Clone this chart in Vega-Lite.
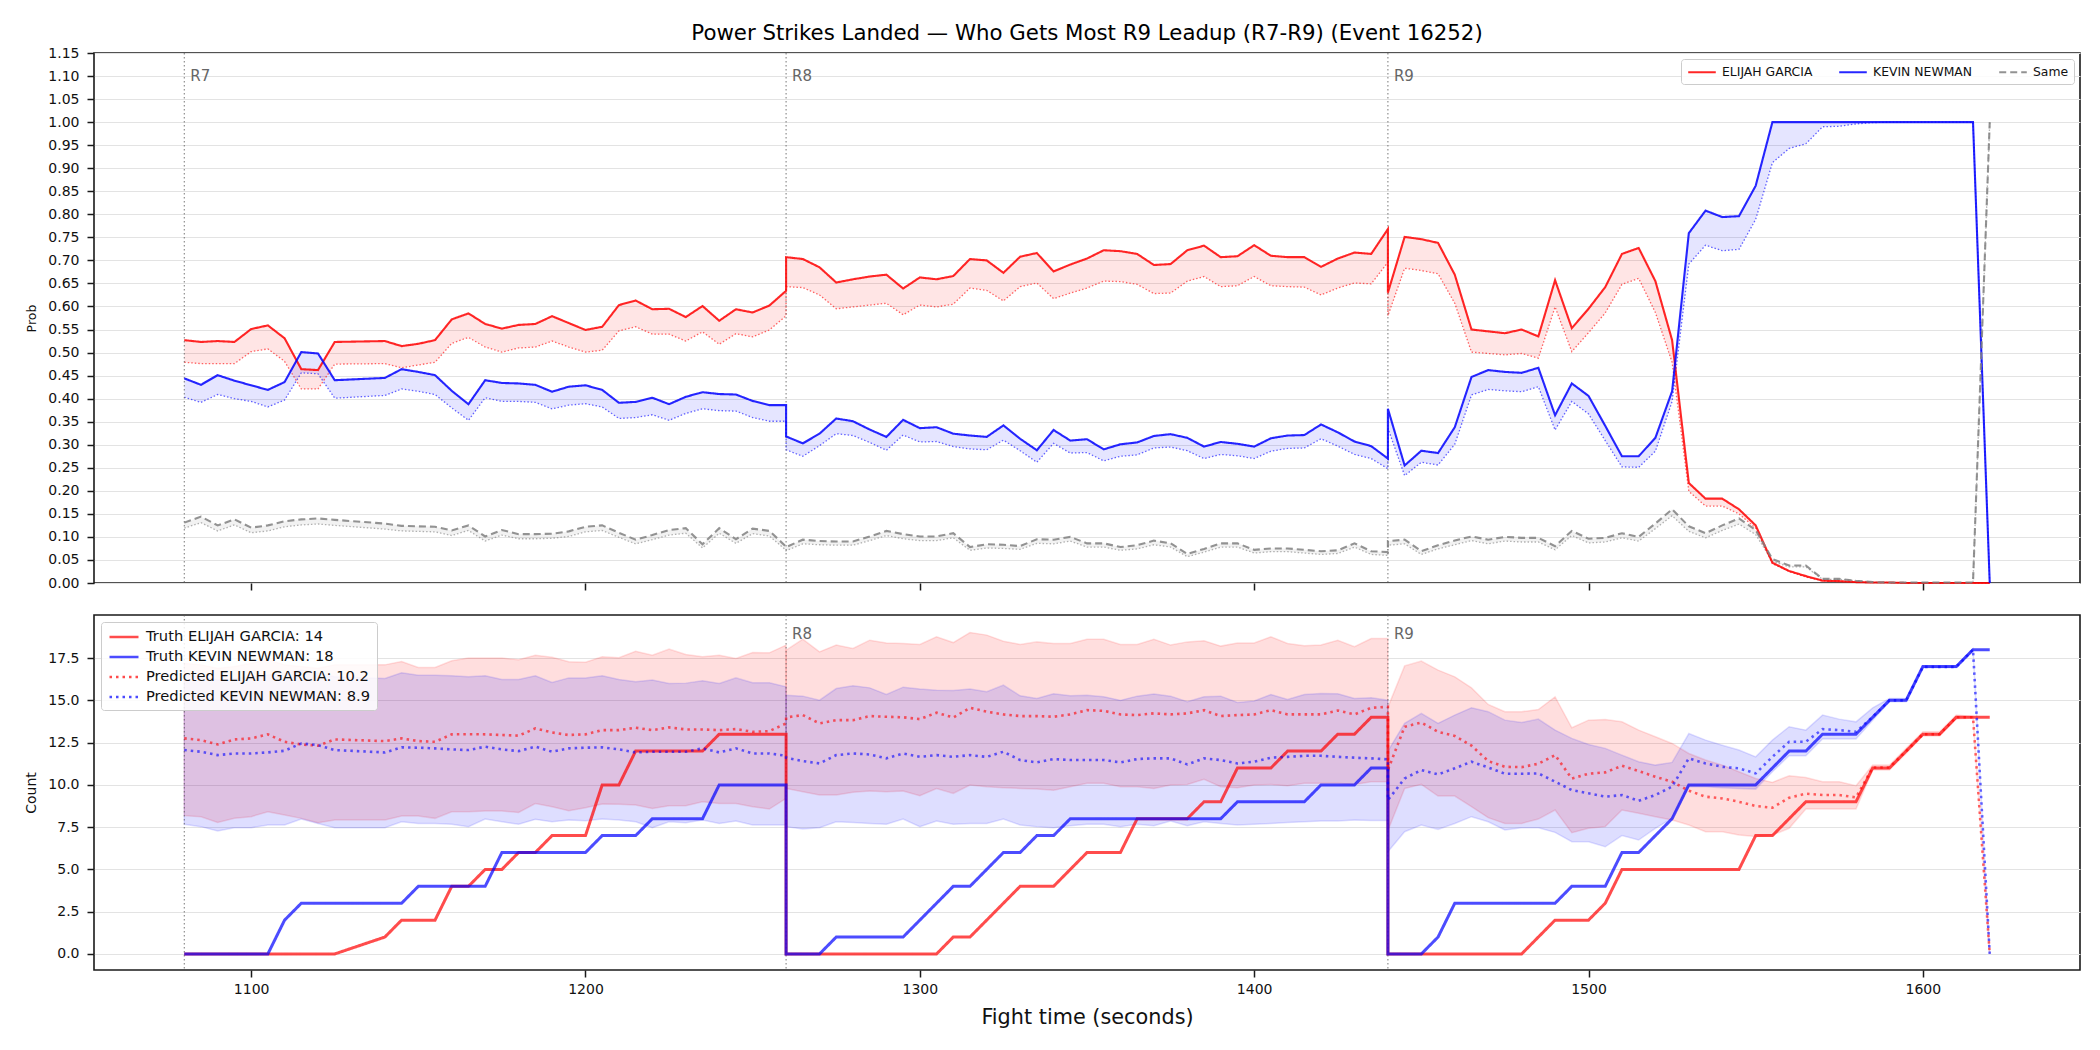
{
  "$schema": "https://vega.github.io/schema/vega-lite/v6.json",
  "background": "white",
  "padding": {"left": 24, "top": 21, "right": 16, "bottom": 8},
  "spacing": 21,
  "config": {
    "font": "DejaVu Sans",
    "view": {"stroke": "#1a1a1a", "strokeWidth": 1.6},
    "axis": {
      "domain": false,
      "tickColor": "#1a1a1a",
      "tickSize": 7,
      "tickWidth": 1.5,
      "labelFont": "DejaVu Sans",
      "labelFontSize": 14,
      "labelColor": "#111111",
      "labelPadding": 5,
      "titleFont": "DejaVu Sans",
      "titleFontWeight": "normal",
      "titleColor": "#111111",
      "gridColor": "#e3e3e3",
      "gridWidth": 1
    },
    "axisY": {"labelPadding": 8},
    "legend": {"labelFont": "DejaVu Sans", "labelColor": "#111111", "labelLimit": 0}
  },
  "datasets": {
    "rounds": [
      {"t": 1080, "label": "R7"},
      {"t": 1260, "label": "R8"},
      {"t": 1440, "label": "R9"}
    ],
    "fight": [
      {"r":"R7","i":0,"t":1080,"g":0.527,"gd":0.479,"k":0.444,"kd":0.403,"s":0.131,"sd":0.119,"gt":0,"kt":0,"gp":12.75,"kp":12.06,"glo":8.18,"ghi":17.2,"klo":7.67,"khi":16.5},
      {"r":"R7","i":1,"t":1085,"g":0.523,"gd":0.476,"k":0.430,"kd":0.392,"s":0.144,"sd":0.131,"gt":0,"kt":0,"gp":12.65,"kp":11.96,"glo":8.12,"ghi":17.1,"klo":7.53,"khi":16.4},
      {"r":"R7","i":2,"t":1090,"g":0.525,"gd":0.476,"k":0.451,"kd":0.409,"s":0.125,"sd":0.113,"gt":0,"kt":0,"gp":12.39,"kp":11.76,"glo":7.78,"ghi":16.9,"klo":7.27,"khi":16.2},
      {"r":"R7","i":3,"t":1095,"g":0.523,"gd":0.476,"k":0.439,"kd":0.400,"s":0.138,"sd":0.126,"gt":0,"kt":0,"gp":12.69,"kp":11.86,"glo":8.02,"ghi":17.0,"klo":7.47,"khi":16.3},
      {"r":"R7","i":4,"t":1100,"g":0.551,"gd":0.502,"k":0.429,"kd":0.394,"s":0.120,"sd":0.109,"gt":0,"kt":0,"gp":12.75,"kp":11.86,"glo":8.12,"ghi":17.2,"klo":7.47,"khi":16.4},
      {"r":"R7","i":5,"t":1105,"g":0.559,"gd":0.508,"k":0.419,"kd":0.382,"s":0.125,"sd":0.113,"gt":0,"kt":0,"gp":12.99,"kp":11.92,"glo":8.41,"ghi":17.4,"klo":7.63,"khi":16.5},
      {"r":"R7","i":6,"t":1110,"g":0.531,"gd":0.481,"k":0.436,"kd":0.397,"s":0.134,"sd":0.122,"gt":0,"kt":2,"gp":12.55,"kp":12.02,"glo":8.22,"ghi":17.1,"klo":7.63,"khi":16.6},
      {"r":"R7","i":7,"t":1115,"g":0.464,"gd":0.421,"k":0.501,"kd":0.456,"s":0.138,"sd":0.126,"gt":0,"kt":3,"gp":12.39,"kp":12.45,"glo":8.02,"ghi":17.0,"klo":7.98,"khi":16.8},
      {"r":"R7","i":8,"t":1120,"g":0.462,"gd":0.421,"k":0.498,"kd":0.454,"s":0.140,"sd":0.128,"gt":0,"kt":3,"gp":12.32,"kp":12.35,"glo":7.76,"ghi":16.9,"klo":7.72,"khi":16.6},
      {"r":"R7","i":9,"t":1125,"g":0.523,"gd":0.475,"k":0.440,"kd":0.401,"s":0.137,"sd":0.125,"gt":0,"kt":3,"gp":12.69,"kp":12.06,"glo":7.92,"ghi":17.1,"klo":7.47,"khi":16.4},
      {"r":"R7","i":10,"t":1140,"g":0.525,"gd":0.476,"k":0.445,"kd":0.407,"s":0.129,"sd":0.117,"gt":1,"kt":3,"gp":12.59,"kp":11.92,"glo":7.92,"ghi":17.1,"klo":7.47,"khi":16.3},
      {"r":"R7","i":11,"t":1145,"g":0.514,"gd":0.467,"k":0.464,"kd":0.421,"s":0.124,"sd":0.113,"gt":2,"kt":3,"gp":12.75,"kp":12.22,"glo":8.16,"ghi":17.3,"klo":7.82,"khi":16.63},
      {"r":"R7","i":12,"t":1150,"g":0.519,"gd":0.473,"k":0.458,"kd":0.416,"s":0.123,"sd":0.112,"gt":2,"kt":4,"gp":12.59,"kp":12.2,"glo":8.16,"ghi":16.95,"klo":7.72,"khi":16.49},
      {"r":"R7","i":13,"t":1155,"g":0.527,"gd":0.479,"k":0.451,"kd":0.409,"s":0.122,"sd":0.111,"gt":2,"kt":4,"gp":12.55,"kp":12.16,"glo":8.02,"ghi":16.95,"klo":7.72,"khi":16.49},
      {"r":"R7","i":14,"t":1160,"g":0.572,"gd":0.520,"k":0.417,"kd":0.380,"s":0.114,"sd":0.103,"gt":4,"kt":4,"gp":12.99,"kp":12.1,"glo":8.41,"ghi":17.34,"klo":7.67,"khi":16.45},
      {"r":"R7","i":15,"t":1165,"g":0.585,"gd":0.533,"k":0.388,"kd":0.353,"s":0.125,"sd":0.114,"gt":4,"kt":4,"gp":13.0,"kp":12.06,"glo":8.41,"ghi":17.5,"klo":7.53,"khi":16.39},
      {"r":"R7","i":16,"t":1170,"g":0.562,"gd":0.512,"k":0.440,"kd":0.402,"s":0.101,"sd":0.091,"gt":5,"kt":4,"gp":12.99,"kp":12.26,"glo":8.45,"ghi":17.5,"klo":7.98,"khi":16.45},
      {"r":"R7","i":17,"t":1175,"g":0.552,"gd":0.501,"k":0.434,"kd":0.394,"s":0.115,"sd":0.104,"gt":5,"kt":6,"gp":12.95,"kp":12.1,"glo":8.45,"ghi":17.5,"klo":7.82,"khi":16.24},
      {"r":"R7","i":18,"t":1180,"g":0.560,"gd":0.510,"k":0.433,"kd":0.394,"s":0.106,"sd":0.096,"gt":6,"kt":6,"gp":12.91,"kp":12.0,"glo":8.37,"ghi":17.4,"klo":7.67,"khi":16.24},
      {"r":"R7","i":19,"t":1185,"g":0.562,"gd":0.512,"k":0.430,"kd":0.392,"s":0.106,"sd":0.096,"gt":6,"kt":6,"gp":13.34,"kp":12.26,"glo":8.9,"ghi":17.67,"klo":7.96,"khi":16.45},
      {"r":"R7","i":20,"t":1190,"g":0.579,"gd":0.525,"k":0.415,"kd":0.378,"s":0.107,"sd":0.097,"gt":7,"kt":6,"gp":13.1,"kp":11.96,"glo":8.71,"ghi":17.55,"klo":7.82,"khi":16.06},
      {"r":"R7","i":21,"t":1195,"g":0.564,"gd":0.512,"k":0.426,"kd":0.386,"s":0.112,"sd":0.101,"gt":7,"kt":6,"gp":12.95,"kp":12.16,"glo":8.47,"ghi":17.28,"klo":7.92,"khi":16.33},
      {"r":"R7","i":22,"t":1200,"g":0.549,"gd":0.501,"k":0.429,"kd":0.389,"s":0.122,"sd":0.111,"gt":7,"kt":6,"gp":12.99,"kp":12.2,"glo":8.65,"ghi":17.26,"klo":7.88,"khi":16.33},
      {"r":"R7","i":23,"t":1205,"g":0.556,"gd":0.505,"k":0.419,"kd":0.382,"s":0.125,"sd":0.114,"gt":10,"kt":7,"gp":13.24,"kp":12.22,"glo":8.87,"ghi":17.58,"klo":7.98,"khi":16.45},
      {"r":"R7","i":24,"t":1210,"g":0.603,"gd":0.547,"k":0.391,"kd":0.357,"s":0.109,"sd":0.099,"gt":10,"kt":7,"gp":13.24,"kp":12.1,"glo":8.85,"ghi":17.52,"klo":7.92,"khi":16.24},
      {"r":"R7","i":25,"t":1215,"g":0.613,"gd":0.556,"k":0.393,"kd":0.359,"s":0.094,"sd":0.085,"gt":12,"kt":7,"gp":13.38,"kp":11.92,"glo":8.81,"ghi":17.9,"klo":7.82,"khi":16.1},
      {"r":"R7","i":26,"t":1220,"g":0.594,"gd":0.540,"k":0.402,"kd":0.365,"s":0.104,"sd":0.094,"gt":12,"kt":8,"gp":13.24,"kp":11.96,"glo":8.61,"ghi":17.67,"klo":7.47,"khi":16.2},
      {"r":"R7","i":27,"t":1225,"g":0.595,"gd":0.540,"k":0.388,"kd":0.353,"s":0.115,"sd":0.104,"gt":12,"kt":8,"gp":13.4,"kp":11.96,"glo":8.77,"ghi":18.03,"klo":7.82,"khi":16.0},
      {"r":"R7","i":28,"t":1230,"g":0.577,"gd":0.525,"k":0.404,"kd":0.368,"s":0.119,"sd":0.108,"gt":12,"kt":8,"gp":13.28,"kp":11.96,"glo":8.77,"ghi":17.71,"klo":7.76,"khi":16.02},
      {"r":"R7","i":29,"t":1235,"g":0.601,"gd":0.545,"k":0.414,"kd":0.378,"s":0.084,"sd":0.076,"gt":12,"kt":8,"gp":13.28,"kp":12.16,"glo":9.0,"ghi":17.58,"klo":7.92,"khi":16.16},
      {"r":"R7","i":30,"t":1240,"g":0.569,"gd":0.518,"k":0.410,"kd":0.374,"s":0.119,"sd":0.108,"gt":13,"kt":10,"gp":13.24,"kp":11.92,"glo":8.9,"ghi":17.67,"klo":7.72,"khi":16.0},
      {"r":"R7","i":31,"t":1245,"g":0.594,"gd":0.541,"k":0.409,"kd":0.373,"s":0.095,"sd":0.086,"gt":13,"kt":10,"gp":13.3,"kp":12.16,"glo":8.9,"ghi":17.48,"klo":7.86,"khi":16.33},
      {"r":"R7","i":32,"t":1250,"g":0.587,"gd":0.534,"k":0.395,"kd":0.359,"s":0.118,"sd":0.107,"gt":13,"kt":10,"gp":13.14,"kp":11.86,"glo":8.71,"ghi":17.83,"klo":7.63,"khi":16.04},
      {"r":"R7","i":33,"t":1255,"g":0.602,"gd":0.549,"k":0.386,"kd":0.351,"s":0.113,"sd":0.102,"gt":13,"kt":10,"gp":13.18,"kp":11.86,"glo":8.57,"ghi":17.81,"klo":7.63,"khi":16.04},
      {"r":"R7","i":34,"t":1260,"g":0.634,"gd":0.580,"k":0.386,"kd":0.351,"s":0.079,"sd":0.071,"gt":13,"kt":10,"gp":13.64,"kp":11.72,"glo":9.2,"ghi":18.27,"klo":7.63,"khi":15.8},
      {"r":"R8","i":35,"t":1260,"g":0.707,"gd":0.643,"k":0.318,"kd":0.289,"s":0.078,"sd":0.070,"gt":0,"kt":0,"gp":13.99,"kp":11.61,"glo":9.79,"ghi":17.97,"klo":7.53,"khi":15.31},
      {"r":"R8","i":36,"t":1265,"g":0.703,"gd":0.641,"k":0.303,"kd":0.275,"s":0.094,"sd":0.085,"gt":0,"kt":0,"gp":14.13,"kp":11.41,"glo":9.6,"ghi":18.62,"klo":7.39,"khi":15.25},
      {"r":"R8","i":37,"t":1270,"g":0.685,"gd":0.625,"k":0.324,"kd":0.298,"s":0.091,"sd":0.083,"gt":0,"kt":0,"gp":13.64,"kp":11.27,"glo":9.4,"ghi":17.87,"klo":7.47,"khi":15.01},
      {"r":"R8","i":38,"t":1275,"g":0.652,"gd":0.595,"k":0.357,"kd":0.324,"s":0.090,"sd":0.082,"gt":0,"kt":1,"gp":13.83,"kp":11.76,"glo":9.4,"ghi":18.27,"klo":7.82,"khi":15.7},
      {"r":"R8","i":39,"t":1280,"g":0.659,"gd":0.599,"k":0.351,"kd":0.320,"s":0.090,"sd":0.082,"gt":0,"kt":1,"gp":13.83,"kp":11.86,"glo":9.56,"ghi":18.07,"klo":7.78,"khi":15.86},
      {"r":"R8","i":40,"t":1285,"g":0.665,"gd":0.603,"k":0.333,"kd":0.305,"s":0.101,"sd":0.092,"gt":0,"kt":1,"gp":14.07,"kp":11.8,"glo":9.64,"ghi":18.56,"klo":7.72,"khi":15.74},
      {"r":"R8","i":41,"t":1290,"g":0.669,"gd":0.607,"k":0.317,"kd":0.288,"s":0.113,"sd":0.103,"gt":0,"kt":1,"gp":14.03,"kp":11.57,"glo":9.6,"ghi":18.4,"klo":7.67,"khi":15.35},
      {"r":"R8","i":42,"t":1295,"g":0.639,"gd":0.582,"k":0.354,"kd":0.321,"s":0.106,"sd":0.096,"gt":0,"kt":1,"gp":14.0,"kp":11.86,"glo":9.64,"ghi":18.36,"klo":7.98,"khi":15.78},
      {"r":"R8","i":43,"t":1300,"g":0.663,"gd":0.603,"k":0.336,"kd":0.306,"s":0.101,"sd":0.092,"gt":0,"kt":2,"gp":13.89,"kp":11.66,"glo":9.36,"ghi":18.31,"klo":7.53,"khi":15.67},
      {"r":"R8","i":44,"t":1305,"g":0.659,"gd":0.599,"k":0.338,"kd":0.307,"s":0.101,"sd":0.092,"gt":0,"kt":3,"gp":14.27,"kp":11.76,"glo":9.79,"ghi":18.76,"klo":7.86,"khi":15.6},
      {"r":"R8","i":45,"t":1310,"g":0.666,"gd":0.605,"k":0.324,"kd":0.296,"s":0.108,"sd":0.098,"gt":1,"kt":4,"gp":13.99,"kp":11.66,"glo":9.5,"ghi":18.42,"klo":7.67,"khi":15.59},
      {"r":"R8","i":46,"t":1315,"g":0.703,"gd":0.640,"k":0.320,"kd":0.291,"s":0.078,"sd":0.071,"gt":1,"kt":4,"gp":14.56,"kp":11.76,"glo":9.99,"ghi":19.01,"klo":7.72,"khi":15.67},
      {"r":"R8","i":47,"t":1320,"g":0.700,"gd":0.635,"k":0.317,"kd":0.289,"s":0.084,"sd":0.076,"gt":2,"kt":5,"gp":14.33,"kp":11.66,"glo":9.89,"ghi":18.86,"klo":7.72,"khi":15.51},
      {"r":"R8","i":48,"t":1325,"g":0.673,"gd":0.612,"k":0.342,"kd":0.310,"s":0.083,"sd":0.075,"gt":3,"kt":6,"gp":14.17,"kp":11.96,"glo":9.83,"ghi":18.5,"klo":7.98,"khi":15.9},
      {"r":"R8","i":49,"t":1330,"g":0.708,"gd":0.643,"k":0.313,"kd":0.287,"s":0.080,"sd":0.073,"gt":4,"kt":6,"gp":14.07,"kp":11.47,"glo":9.79,"ghi":18.31,"klo":7.63,"khi":15.27},
      {"r":"R8","i":50,"t":1335,"g":0.716,"gd":0.651,"k":0.288,"kd":0.262,"s":0.095,"sd":0.086,"gt":4,"kt":7,"gp":14.07,"kp":11.33,"glo":9.75,"ghi":18.46,"klo":7.53,"khi":15.11},
      {"r":"R8","i":51,"t":1340,"g":0.676,"gd":0.617,"k":0.332,"kd":0.303,"s":0.094,"sd":0.085,"gt":4,"kt":7,"gp":14.03,"kp":11.53,"glo":9.69,"ghi":18.36,"klo":7.47,"khi":15.39},
      {"r":"R8","i":52,"t":1345,"g":0.691,"gd":0.629,"k":0.309,"kd":0.282,"s":0.100,"sd":0.091,"gt":5,"kt":8,"gp":14.17,"kp":11.47,"glo":9.89,"ghi":18.36,"klo":7.59,"khi":15.27},
      {"r":"R8","i":53,"t":1350,"g":0.704,"gd":0.640,"k":0.312,"kd":0.283,"s":0.086,"sd":0.078,"gt":6,"kt":8,"gp":14.42,"kp":11.47,"glo":10.09,"ghi":18.62,"klo":7.67,"khi":15.31},
      {"r":"R8","i":54,"t":1355,"g":0.722,"gd":0.655,"k":0.290,"kd":0.265,"s":0.086,"sd":0.078,"gt":6,"kt":8,"gp":14.38,"kp":11.47,"glo":10.09,"ghi":18.62,"klo":7.67,"khi":15.21},
      {"r":"R8","i":55,"t":1360,"g":0.720,"gd":0.654,"k":0.301,"kd":0.275,"s":0.078,"sd":0.071,"gt":6,"kt":8,"gp":14.17,"kp":11.33,"glo":9.89,"ghi":18.31,"klo":7.53,"khi":15.0},
      {"r":"R8","i":56,"t":1365,"g":0.714,"gd":0.648,"k":0.305,"kd":0.278,"s":0.082,"sd":0.074,"gt":8,"kt":8,"gp":14.13,"kp":11.53,"glo":9.89,"ghi":18.31,"klo":7.67,"khi":15.25},
      {"r":"R8","i":57,"t":1370,"g":0.690,"gd":0.628,"k":0.319,"kd":0.293,"s":0.092,"sd":0.083,"gt":8,"kt":8,"gp":14.23,"kp":11.57,"glo":9.79,"ghi":18.62,"klo":7.59,"khi":15.37},
      {"r":"R8","i":58,"t":1375,"g":0.692,"gd":0.629,"k":0.323,"kd":0.295,"s":0.086,"sd":0.078,"gt":8,"kt":8,"gp":14.17,"kp":11.57,"glo":9.99,"ghi":18.27,"klo":7.86,"khi":15.25},
      {"r":"R8","i":59,"t":1380,"g":0.722,"gd":0.655,"k":0.315,"kd":0.287,"s":0.063,"sd":0.057,"gt":8,"kt":8,"gp":14.23,"kp":11.21,"glo":10.03,"ghi":18.46,"klo":7.59,"khi":14.92},
      {"r":"R8","i":60,"t":1385,"g":0.732,"gd":0.665,"k":0.296,"kd":0.270,"s":0.074,"sd":0.067,"gt":9,"kt":8,"gp":14.42,"kp":11.57,"glo":10.33,"ghi":18.52,"klo":7.82,"khi":15.21},
      {"r":"R8","i":61,"t":1390,"g":0.707,"gd":0.643,"k":0.306,"kd":0.279,"s":0.086,"sd":0.078,"gt":9,"kt":8,"gp":14.07,"kp":11.47,"glo":9.89,"ghi":18.21,"klo":7.72,"khi":15.25},
      {"r":"R8","i":62,"t":1395,"g":0.709,"gd":0.645,"k":0.302,"kd":0.276,"s":0.086,"sd":0.078,"gt":11,"kt":9,"gp":14.13,"kp":11.27,"glo":9.83,"ghi":18.4,"klo":7.63,"khi":14.88},
      {"r":"R8","i":63,"t":1400,"g":0.733,"gd":0.665,"k":0.296,"kd":0.270,"s":0.072,"sd":0.065,"gt":11,"kt":9,"gp":14.17,"kp":11.37,"glo":9.99,"ghi":18.4,"klo":7.67,"khi":14.96},
      {"r":"R8","i":64,"t":1405,"g":0.710,"gd":0.645,"k":0.314,"kd":0.286,"s":0.075,"sd":0.068,"gt":11,"kt":9,"gp":14.42,"kp":11.61,"glo":10.03,"ghi":18.76,"klo":7.72,"khi":15.35},
      {"r":"R8","i":65,"t":1410,"g":0.707,"gd":0.643,"k":0.320,"kd":0.292,"s":0.075,"sd":0.068,"gt":12,"kt":9,"gp":14.17,"kp":11.66,"glo":9.95,"ghi":18.36,"klo":7.78,"khi":15.05},
      {"r":"R8","i":66,"t":1415,"g":0.707,"gd":0.642,"k":0.321,"kd":0.293,"s":0.072,"sd":0.065,"gt":12,"kt":9,"gp":14.17,"kp":11.72,"glo":10.09,"ghi":18.23,"klo":7.82,"khi":15.35},
      {"r":"R8","i":67,"t":1420,"g":0.686,"gd":0.625,"k":0.344,"kd":0.313,"s":0.069,"sd":0.062,"gt":12,"kt":10,"gp":14.17,"kp":11.72,"glo":10.09,"ghi":18.27,"klo":7.86,"khi":15.41},
      {"r":"R8","i":68,"t":1425,"g":0.704,"gd":0.640,"k":0.327,"kd":0.297,"s":0.071,"sd":0.064,"gt":13,"kt":10,"gp":14.4,"kp":11.66,"glo":10.09,"ghi":18.56,"klo":7.86,"khi":15.39},
      {"r":"R8","i":69,"t":1430,"g":0.717,"gd":0.651,"k":0.307,"kd":0.279,"s":0.086,"sd":0.078,"gt":13,"kt":10,"gp":14.17,"kp":11.61,"glo":10.03,"ghi":18.17,"klo":7.92,"khi":15.11},
      {"r":"R8","i":70,"t":1435,"g":0.714,"gd":0.649,"k":0.297,"kd":0.270,"s":0.069,"sd":0.062,"gt":14,"kt":11,"gp":14.56,"kp":11.57,"glo":10.19,"ghi":18.66,"klo":7.9,"khi":15.15},
      {"r":"R8","i":71,"t":1440,"g":0.768,"gd":0.696,"k":0.270,"kd":0.248,"s":0.067,"sd":0.060,"gt":14,"kt":11,"gp":14.62,"kp":11.51,"glo":10.19,"ghi":18.66,"klo":7.9,"khi":15.01},
      {"r":"R9","i":72,"t":1440,"g":0.630,"gd":0.580,"k":0.378,"kd":0.336,"s":0.091,"sd":0.082,"gt":0,"kt":0,"gp":10.88,"kp":9.1,"glo":7.3,"ghi":14.6,"klo":6.05,"khi":12.0},
      {"r":"R9","i":73,"t":1445,"g":0.751,"gd":0.683,"k":0.255,"kd":0.233,"s":0.094,"sd":0.085,"gt":0,"kt":0,"gp":13.44,"kp":10.38,"glo":9.79,"ghi":17.04,"klo":7.23,"khi":13.64},
      {"r":"R9","i":74,"t":1450,"g":0.746,"gd":0.678,"k":0.287,"kd":0.262,"s":0.069,"sd":0.062,"gt":0,"kt":0,"gp":13.69,"kp":10.88,"glo":10.03,"ghi":17.32,"klo":7.63,"khi":14.23},
      {"r":"R9","i":75,"t":1455,"g":0.738,"gd":0.671,"k":0.282,"kd":0.256,"s":0.082,"sd":0.074,"gt":0,"kt":1,"gp":13.14,"kp":10.62,"glo":9.34,"ghi":16.79,"klo":7.37,"khi":13.64},
      {"r":"R9","i":76,"t":1460,"g":0.669,"gd":0.607,"k":0.338,"kd":0.301,"s":0.092,"sd":0.083,"gt":0,"kt":3,"gp":12.9,"kp":10.98,"glo":9.34,"ghi":16.39,"klo":7.72,"khi":14.13},
      {"r":"R9","i":77,"t":1465,"g":0.550,"gd":0.501,"k":0.447,"kd":0.408,"s":0.101,"sd":0.092,"gt":0,"kt":3,"gp":12.32,"kp":11.37,"glo":8.71,"ghi":15.74,"klo":8.12,"khi":14.56},
      {"r":"R9","i":78,"t":1470,"g":0.546,"gd":0.498,"k":0.462,"kd":0.420,"s":0.094,"sd":0.085,"gt":0,"kt":3,"gp":11.41,"kp":11.03,"glo":8.06,"ghi":14.76,"klo":7.82,"khi":14.33},
      {"r":"R9","i":79,"t":1475,"g":0.542,"gd":0.495,"k":0.458,"kd":0.417,"s":0.100,"sd":0.091,"gt":0,"kt":3,"gp":11.07,"kp":10.66,"glo":7.72,"ghi":14.33,"klo":7.33,"khi":13.83},
      {"r":"R9","i":80,"t":1480,"g":0.550,"gd":0.498,"k":0.456,"kd":0.415,"s":0.098,"sd":0.089,"gt":0,"kt":3,"gp":11.05,"kp":10.66,"glo":7.72,"ghi":14.33,"klo":7.47,"khi":13.69},
      {"r":"R9","i":81,"t":1485,"g":0.535,"gd":0.488,"k":0.467,"kd":0.426,"s":0.098,"sd":0.089,"gt":1,"kt":3,"gp":11.25,"kp":10.68,"glo":7.98,"ghi":14.46,"klo":7.47,"khi":13.89},
      {"r":"R9","i":82,"t":1490,"g":0.657,"gd":0.599,"k":0.364,"kd":0.332,"s":0.080,"sd":0.072,"gt":2,"kt":3,"gp":11.76,"kp":10.19,"glo":8.51,"ghi":15.21,"klo":7.19,"khi":13.24},
      {"r":"R9","i":83,"t":1495,"g":0.553,"gd":0.502,"k":0.433,"kd":0.394,"s":0.113,"sd":0.103,"gt":2,"kt":4,"gp":10.38,"kp":9.69,"glo":7.17,"ghi":13.38,"klo":6.64,"khi":12.75},
      {"r":"R9","i":84,"t":1500,"g":0.595,"gd":0.543,"k":0.406,"kd":0.367,"s":0.096,"sd":0.087,"gt":2,"kt":4,"gp":10.66,"kp":9.5,"glo":7.43,"ghi":13.83,"klo":6.64,"khi":12.39},
      {"r":"R9","i":85,"t":1505,"g":0.642,"gd":0.586,"k":0.341,"kd":0.309,"s":0.098,"sd":0.089,"gt":3,"kt":4,"gp":10.74,"kp":9.3,"glo":7.53,"ghi":13.87,"klo":6.34,"khi":12.16},
      {"r":"R9","i":86,"t":1510,"g":0.714,"gd":0.648,"k":0.275,"kd":0.252,"s":0.108,"sd":0.098,"gt":5,"kt":6,"gp":11.13,"kp":9.4,"glo":8.51,"ghi":13.73,"klo":7.0,"khi":11.76},
      {"r":"R9","i":87,"t":1515,"g":0.727,"gd":0.661,"k":0.275,"kd":0.251,"s":0.100,"sd":0.091,"gt":5,"kt":6,"gp":10.82,"kp":9.06,"glo":8.32,"ghi":13.24,"klo":6.74,"khi":11.37},
      {"r":"R9","i":88,"t":1520,"g":0.655,"gd":0.587,"k":0.315,"kd":0.286,"s":0.129,"sd":0.118,"gt":5,"kt":7,"gp":10.48,"kp":9.4,"glo":8.12,"ghi":12.85,"klo":7.43,"khi":11.17},
      {"r":"R9","i":89,"t":1525,"g":0.527,"gd":0.479,"k":0.416,"kd":0.394,"s":0.160,"sd":0.146,"gt":5,"kt":8,"gp":10.19,"kp":9.9,"glo":7.92,"ghi":12.45,"klo":8.02,"khi":11.33},
      {"r":"R9","i":90,"t":1530,"g":0.217,"gd":0.199,"k":0.759,"kd":0.692,"s":0.123,"sd":0.112,"gt":5,"kt":10,"gp":9.66,"kp":11.57,"glo":7.63,"ghi":11.86,"klo":9.89,"khi":13.04},
      {"r":"R9","i":91,"t":1535,"g":0.183,"gd":0.167,"k":0.808,"kd":0.733,"s":0.108,"sd":0.098,"gt":5,"kt":10,"gp":9.3,"kp":11.27,"glo":7.23,"ghi":11.47,"klo":9.89,"khi":12.65},
      {"r":"R9","i":92,"t":1540,"g":0.183,"gd":0.167,"k":0.794,"kd":0.721,"s":0.125,"sd":0.114,"gt":5,"kt":10,"gp":9.2,"kp":11.07,"glo":7.23,"ghi":11.17,"klo":9.83,"khi":12.35},
      {"r":"R9","i":93,"t":1545,"g":0.160,"gd":0.150,"k":0.796,"kd":0.724,"s":0.140,"sd":0.128,"gt":5,"kt":10,"gp":9.0,"kp":10.98,"glo":7.03,"ghi":10.78,"klo":9.79,"khi":12.06},
      {"r":"R9","i":94,"t":1550,"g":0.125,"gd":0.119,"k":0.862,"kd":0.789,"s":0.115,"sd":0.105,"gt":7,"kt":10,"gp":8.75,"kp":10.68,"glo":6.94,"ghi":10.38,"klo":9.75,"khi":11.66},
      {"r":"R9","i":95,"t":1555,"g":0.044,"gd":0.042,"k":1.0,"kd":0.912,"s":0.052,"sd":0.047,"gt":7,"kt":11,"gp":8.65,"kp":11.66,"glo":7.03,"ghi":10.15,"klo":10.78,"khi":12.65},
      {"r":"R9","i":96,"t":1560,"g":0.026,"gd":0.025,"k":1.0,"kd":0.943,"s":0.038,"sd":0.035,"gt":8,"kt":12,"gp":9.24,"kp":12.55,"glo":7.43,"ghi":10.54,"klo":11.72,"khi":13.44},
      {"r":"R9","i":97,"t":1565,"g":0.015,"gd":0.013,"k":1.0,"kd":0.953,"s":0.038,"sd":0.035,"gt":9,"kt":12,"gp":9.48,"kp":12.55,"glo":8.57,"ghi":10.44,"klo":11.72,"khi":13.24},
      {"r":"R9","i":98,"t":1570,"g":0.005,"gd":0.005,"k":1.0,"kd":0.990,"s":0.009,"sd":0.008,"gt":9,"kt":13,"gp":9.4,"kp":13.3,"glo":8.57,"ghi":10.19,"klo":12.71,"khi":14.13},
      {"r":"R9","i":99,"t":1575,"g":0.004,"gd":0.004,"k":1.0,"kd":0.991,"s":0.009,"sd":0.008,"gt":9,"kt":13,"gp":9.4,"kp":13.24,"glo":8.57,"ghi":10.19,"klo":12.71,"khi":13.89},
      {"r":"R9","i":100,"t":1580,"g":0.002,"gd":0.002,"k":1.0,"kd":0.996,"s":0.005,"sd":0.005,"gt":9,"kt":13,"gp":9.26,"kp":13.14,"glo":8.57,"ghi":9.95,"klo":12.71,"khi":13.73},
      {"r":"R9","i":101,"t":1585,"g":0.001,"gd":0.001,"k":1.0,"kd":0.999,"s":0.002,"sd":0.002,"gt":11,"kt":14,"gp":11.03,"kp":14.03,"glo":10.88,"ghi":11.17,"klo":13.83,"khi":14.56},
      {"r":"R9","i":102,"t":1590,"g":0.001,"gd":0.001,"k":1.0,"kd":1.0,"s":0.001,"sd":0.001,"gt":11,"kt":15,"gp":11.03,"kp":15.0,"glo":10.88,"ghi":11.17,"klo":14.92,"khi":15.11},
      {"r":"R9","i":103,"t":1595,"g":0.0,"gd":0.0,"k":1.0,"kd":1.0,"s":0.001,"sd":0.001,"gt":12,"kt":15,"gp":12.0,"kp":15.0,"glo":11.86,"ghi":12.16,"klo":14.92,"khi":15.11},
      {"r":"R9","i":104,"t":1600,"g":0.0,"gd":0.0,"k":1.0,"kd":1.0,"s":0.001,"sd":0.001,"gt":13,"kt":17,"gp":13.0,"kp":16.98,"glo":12.89,"ghi":13.14,"klo":16.93,"khi":17.04},
      {"r":"R9","i":105,"t":1605,"g":0.0,"gd":0.0,"k":1.0,"kd":1.0,"s":0.001,"sd":0.001,"gt":13,"kt":17,"gp":13.0,"kp":16.98,"glo":12.89,"ghi":13.14,"klo":16.93,"khi":17.04},
      {"r":"R9","i":106,"t":1610,"g":0.0,"gd":0.0,"k":1.0,"kd":1.0,"s":0.001,"sd":0.001,"gt":14,"kt":17,"gp":14.0,"kp":16.98,"glo":13.9,"ghi":14.13,"klo":16.93,"khi":17.04},
      {"r":"R9","i":107,"t":1615,"g":0.0,"gd":0.0,"k":1.0,"kd":1.0,"s":0.001,"sd":0.001,"gt":14,"kt":18,"gp":14.0,"kp":18.0,"glo":13.95,"ghi":14.05,"klo":17.95,"khi":18.05},
      {"r":"R9","i":108,"t":1620,"g":0.0,"gd":0.0,"k":0.0,"kd":0.0,"s":1.0,"sd":1.0,"gt":14,"kt":18,"gp":0,"kp":0,"glo":0,"ghi":0,"klo":0,"khi":0}
    ]
  },
  "vconcat": [
    {
      "width": 1986,
      "height": 530,
      "title": {
        "text": "Power Strikes Landed — Who Gets Most R9 Leadup (R7-R9) (Event 16252)",
        "frame": "group",
        "anchor": "middle",
        "font": "DejaVu Sans",
        "fontSize": 21.3,
        "fontWeight": "normal",
        "color": "#000000",
        "offset": 2
      },
      "encoding": {
        "x": {
          "field": "t",
          "type": "quantitative",
          "scale": {"domain": [1053, 1647], "nice": false, "zero": false},
          "axis": {"values": [1100, 1200, 1300, 1400, 1500, 1600], "labels": false, "title": null, "grid": false}
        }
      },
      "layer": [
        {
          "data": {"name": "fight"},
          "mark": {"type": "area", "color": "red", "opacity": 0.1},
          "encoding": {
            "y": {"field": "g", "type": "quantitative", "scale": {"domain": [0, 1.15], "nice": false, "zero": false},
              "axis": {"values": [0, 0.05, 0.1, 0.15, 0.2, 0.25, 0.3, 0.35, 0.4, 0.45, 0.5, 0.55, 0.6, 0.65, 0.7, 0.75, 0.8, 0.85, 0.9, 0.95, 1, 1.05, 1.1, 1.15], "format": ".2f", "title": "Prob", "titleFontSize": 12.5, "titlePadding": 9, "grid": true}},
            "y2": {"field": "gd"},
            "detail": {"field": "r"}
          }
        },
        {
          "data": {"name": "fight"},
          "mark": {"type": "area", "color": "blue", "opacity": 0.1},
          "encoding": {
            "y": {"field": "k", "type": "quantitative", "scale": {"domain": [0, 1.15], "nice": false, "zero": false},
              "axis": {"values": [0, 0.05, 0.1, 0.15, 0.2, 0.25, 0.3, 0.35, 0.4, 0.45, 0.5, 0.55, 0.6, 0.65, 0.7, 0.75, 0.8, 0.85, 0.9, 0.95, 1, 1.05, 1.1, 1.15], "format": ".2f", "title": "Prob", "titleFontSize": 12.5, "titlePadding": 9, "grid": true}},
            "y2": {"field": "kd"},
            "detail": {"field": "r"}
          }
        },
        {
          "data": {"name": "fight"},
          "mark": {"type": "area", "color": "gray", "opacity": 0.1},
          "encoding": {
            "y": {"field": "s", "type": "quantitative", "scale": {"domain": [0, 1.15], "nice": false, "zero": false},
              "axis": {"values": [0, 0.05, 0.1, 0.15, 0.2, 0.25, 0.3, 0.35, 0.4, 0.45, 0.5, 0.55, 0.6, 0.65, 0.7, 0.75, 0.8, 0.85, 0.9, 0.95, 1, 1.05, 1.1, 1.15], "format": ".2f", "title": "Prob", "titleFontSize": 12.5, "titlePadding": 9, "grid": true}},
            "y2": {"field": "sd"},
            "detail": {"field": "r"}
          }
        },
        {
          "data": {"name": "fight"},
          "mark": {"type": "line", "color": "red", "opacity": 0.6, "strokeWidth": 1.3, "strokeDash": [1.5, 2]},
          "encoding": {
            "y": {"field": "gd", "type": "quantitative", "scale": {"domain": [0, 1.15], "nice": false, "zero": false},
              "axis": {"values": [0, 0.05, 0.1, 0.15, 0.2, 0.25, 0.3, 0.35, 0.4, 0.45, 0.5, 0.55, 0.6, 0.65, 0.7, 0.75, 0.8, 0.85, 0.9, 0.95, 1, 1.05, 1.1, 1.15], "format": ".2f", "title": "Prob", "titleFontSize": 12.5, "titlePadding": 9, "grid": true}},
            "order": {"field": "i", "type": "quantitative"}
          }
        },
        {
          "data": {"name": "fight"},
          "mark": {"type": "line", "color": "blue", "opacity": 0.6, "strokeWidth": 1.3, "strokeDash": [1.5, 2]},
          "encoding": {
            "y": {"field": "kd", "type": "quantitative", "scale": {"domain": [0, 1.15], "nice": false, "zero": false},
              "axis": {"values": [0, 0.05, 0.1, 0.15, 0.2, 0.25, 0.3, 0.35, 0.4, 0.45, 0.5, 0.55, 0.6, 0.65, 0.7, 0.75, 0.8, 0.85, 0.9, 0.95, 1, 1.05, 1.1, 1.15], "format": ".2f", "title": "Prob", "titleFontSize": 12.5, "titlePadding": 9, "grid": true}},
            "order": {"field": "i", "type": "quantitative"}
          }
        },
        {
          "data": {"name": "fight"},
          "mark": {"type": "line", "color": "gray", "opacity": 0.6, "strokeWidth": 1.3, "strokeDash": [1.5, 2]},
          "encoding": {
            "y": {"field": "sd", "type": "quantitative", "scale": {"domain": [0, 1.15], "nice": false, "zero": false},
              "axis": {"values": [0, 0.05, 0.1, 0.15, 0.2, 0.25, 0.3, 0.35, 0.4, 0.45, 0.5, 0.55, 0.6, 0.65, 0.7, 0.75, 0.8, 0.85, 0.9, 0.95, 1, 1.05, 1.1, 1.15], "format": ".2f", "title": "Prob", "titleFontSize": 12.5, "titlePadding": 9, "grid": true}},
            "order": {"field": "i", "type": "quantitative"}
          }
        },
        {
          "data": {"name": "rounds"},
          "mark": {"type": "rule", "color": "#555555", "strokeWidth": 1, "strokeDash": [1.5, 2.5], "opacity": 0.8},
          "encoding": {}
        },
        {
          "data": {"name": "rounds"},
          "mark": {"type": "text", "align": "left", "baseline": "middle", "dx": 6, "fontSize": 15, "color": "#666666"},
          "encoding": {
            "y": {"datum": 1.1, "type": "quantitative", "scale": {"domain": [0, 1.15], "nice": false, "zero": false},
              "axis": {"values": [0, 0.05, 0.1, 0.15, 0.2, 0.25, 0.3, 0.35, 0.4, 0.45, 0.5, 0.55, 0.6, 0.65, 0.7, 0.75, 0.8, 0.85, 0.9, 0.95, 1, 1.05, 1.1, 1.15], "format": ".2f", "title": "Prob", "titleFontSize": 12.5, "titlePadding": 9, "grid": true}},
            "text": {"field": "label"}
          }
        },
        {
          "data": {"name": "fight"},
          "transform": [{"fold": ["g", "k", "s"], "as": ["series", "p"]}],
          "mark": {"type": "line", "strokeWidth": 2.1, "opacity": 0.85},
          "encoding": {
            "y": {"field": "p", "type": "quantitative", "scale": {"domain": [0, 1.15], "nice": false, "zero": false},
              "axis": {"values": [0, 0.05, 0.1, 0.15, 0.2, 0.25, 0.3, 0.35, 0.4, 0.45, 0.5, 0.55, 0.6, 0.65, 0.7, 0.75, 0.8, 0.85, 0.9, 0.95, 1, 1.05, 1.1, 1.15], "format": ".2f", "title": "Prob", "titleFontSize": 12.5, "titlePadding": 9, "grid": true}},
            "order": {"field": "i", "type": "quantitative"},
            "color": {
              "field": "series", "type": "nominal",
              "scale": {"domain": ["g", "k", "s"], "range": ["#ff0000", "#0000ff", "#808080"]},
              "legend": {
                "title": null, "orient": "top-right", "direction": "horizontal", "offset": 6,
                "labelFontSize": 12.4, "symbolType": "M-2,0L2,0", "symbolSize": 190, "symbolStrokeWidth": 2,
                "symbolOffset": 8, "labelOffset": 12,
                "fillColor": "rgba(255,255,255,0.85)", "strokeColor": "#cccccc", "cornerRadius": 3,
                "padding": 5, "columnPadding": 22,
                "labelExpr": "datum.label == 'g' ? 'ELIJAH GARCIA' : datum.label == 'k' ? 'KEVIN NEWMAN' : 'Same'"
              }
            },
            "strokeDash": {
              "field": "series", "type": "nominal",
              "scale": {"domain": ["g", "k", "s"], "range": [[1, 0], [1, 0], [7, 4]]},
              "legend": {
                "title": null, "orient": "top-right", "direction": "horizontal", "offset": 6,
                "labelFontSize": 12.4, "symbolType": "M-2,0L2,0", "symbolSize": 190, "symbolStrokeWidth": 2,
                "symbolOffset": 8, "labelOffset": 12,
                "fillColor": "rgba(255,255,255,0.85)", "strokeColor": "#cccccc", "cornerRadius": 3,
                "padding": 5, "columnPadding": 22,
                "labelExpr": "datum.label == 'g' ? 'ELIJAH GARCIA' : datum.label == 'k' ? 'KEVIN NEWMAN' : 'Same'"
              }
            }
          }
        }
      ]
    },
    {
      "width": 1986,
      "height": 355,
      "encoding": {
        "x": {
          "field": "t",
          "type": "quantitative",
          "scale": {"domain": [1053, 1647], "nice": false, "zero": false},
          "axis": {"values": [1100, 1200, 1300, 1400, 1500, 1600], "format": "d", "title": "Fight time (seconds)", "titleFontSize": 20.8, "titlePadding": 11, "grid": false}
        }
      },
      "layer": [
        {
          "data": {"name": "fight"},
          "mark": {"type": "area", "color": "red", "fillOpacity": 0.13, "stroke": "red", "strokeOpacity": 0.12, "strokeWidth": 1.5},
          "encoding": {
            "y": {"field": "ghi", "type": "quantitative", "scale": {"domain": [-0.95, 20.05], "nice": false, "zero": false},
              "axis": {"values": [0, 2.5, 5, 7.5, 10, 12.5, 15, 17.5], "format": ".1f", "title": "Count", "titleFontSize": 14, "titlePadding": 9, "grid": true}},
            "y2": {"field": "glo"},
            "detail": {"field": "r"}
          }
        },
        {
          "data": {"name": "fight"},
          "mark": {"type": "area", "color": "blue", "fillOpacity": 0.13, "stroke": "blue", "strokeOpacity": 0.12, "strokeWidth": 1.5},
          "encoding": {
            "y": {"field": "khi", "type": "quantitative", "scale": {"domain": [-0.95, 20.05], "nice": false, "zero": false},
              "axis": {"values": [0, 2.5, 5, 7.5, 10, 12.5, 15, 17.5], "format": ".1f", "title": "Count", "titleFontSize": 14, "titlePadding": 9, "grid": true}},
            "y2": {"field": "klo"},
            "detail": {"field": "r"}
          }
        },
        {
          "data": {"name": "rounds"},
          "mark": {"type": "rule", "color": "#555555", "strokeWidth": 1, "strokeDash": [1.5, 2.5], "opacity": 0.8},
          "encoding": {}
        },
        {
          "data": {"name": "rounds"},
          "transform": [{"filter": "datum.label != 'R7'"}],
          "mark": {"type": "text", "align": "left", "baseline": "middle", "dx": 6, "fontSize": 15, "color": "#666666"},
          "encoding": {
            "y": {"datum": 18.9, "type": "quantitative", "scale": {"domain": [-0.95, 20.05], "nice": false, "zero": false},
              "axis": {"values": [0, 2.5, 5, 7.5, 10, 12.5, 15, 17.5], "format": ".1f", "title": "Count", "titleFontSize": 14, "titlePadding": 9, "grid": true}},
            "text": {"field": "label"}
          }
        },
        {
          "data": {"name": "fight"},
          "transform": [{"fold": ["gt", "kt"], "as": ["series", "n"]}],
          "mark": {"type": "line", "strokeWidth": 3, "opacity": 0.7},
          "encoding": {
            "y": {"field": "n", "type": "quantitative", "scale": {"domain": [-0.95, 20.05], "nice": false, "zero": false},
              "axis": {"values": [0, 2.5, 5, 7.5, 10, 12.5, 15, 17.5], "format": ".1f", "title": "Count", "titleFontSize": 14, "titlePadding": 9, "grid": true}},
            "order": {"field": "i", "type": "quantitative"},
            "color": {
              "field": "series", "type": "nominal",
              "scale": {"domain": ["gt", "kt", "gp", "kp"], "range": ["#ff0000", "#0000ff", "#ff0000", "#0000ff"]},
              "legend": {
                "title": null, "orient": "top-left", "direction": "vertical", "offset": 7,
                "labelFontSize": 14.7, "symbolType": "M-2,0L2,0", "symbolSize": 210, "symbolStrokeWidth": 2.6,
                "symbolOffset": 8, "labelOffset": 13,
                "fillColor": "rgba(255,255,255,0.85)", "strokeColor": "#cccccc", "cornerRadius": 3,
                "padding": 6, "rowPadding": 4,
                "labelExpr": "datum.label == 'gt' ? 'Truth ELIJAH GARCIA: 14' : datum.label == 'kt' ? 'Truth KEVIN NEWMAN: 18' : datum.label == 'gp' ? 'Predicted ELIJAH GARCIA: 10.2' : 'Predicted KEVIN NEWMAN: 8.9'"
              }
            },
            "strokeDash": {
              "field": "series", "type": "nominal",
              "scale": {"domain": ["gt", "kt", "gp", "kp"], "range": [[1, 0], [1, 0], [2.5, 4], [2.5, 4]]},
              "legend": {
                "title": null, "orient": "top-left", "direction": "vertical", "offset": 7,
                "labelFontSize": 14.7, "symbolType": "M-2,0L2,0", "symbolSize": 210, "symbolStrokeWidth": 2.6,
                "symbolOffset": 8, "labelOffset": 13,
                "fillColor": "rgba(255,255,255,0.85)", "strokeColor": "#cccccc", "cornerRadius": 3,
                "padding": 6, "rowPadding": 4,
                "labelExpr": "datum.label == 'gt' ? 'Truth ELIJAH GARCIA: 14' : datum.label == 'kt' ? 'Truth KEVIN NEWMAN: 18' : datum.label == 'gp' ? 'Predicted ELIJAH GARCIA: 10.2' : 'Predicted KEVIN NEWMAN: 8.9'"
              }
            }
          }
        },
        {
          "data": {"name": "fight"},
          "transform": [{"fold": ["gp", "kp"], "as": ["series", "n"]}],
          "mark": {"type": "line", "strokeWidth": 2.6, "opacity": 0.6},
          "encoding": {
            "y": {"field": "n", "type": "quantitative", "scale": {"domain": [-0.95, 20.05], "nice": false, "zero": false},
              "axis": {"values": [0, 2.5, 5, 7.5, 10, 12.5, 15, 17.5], "format": ".1f", "title": "Count", "titleFontSize": 14, "titlePadding": 9, "grid": true}},
            "order": {"field": "i", "type": "quantitative"},
            "color": {"field": "series", "type": "nominal", "scale": {"domain": ["gt", "kt", "gp", "kp"], "range": ["#ff0000", "#0000ff", "#ff0000", "#0000ff"]}},
            "strokeDash": {"field": "series", "type": "nominal", "scale": {"domain": ["gt", "kt", "gp", "kp"], "range": [[1, 0], [1, 0], [2.5, 4], [2.5, 4]]}}
          }
        }
      ]
    }
  ],
  "resolve": {"legend": {"color": "independent", "strokeDash": "independent"}, "scale": {"color": "independent", "strokeDash": "independent"}}
}
